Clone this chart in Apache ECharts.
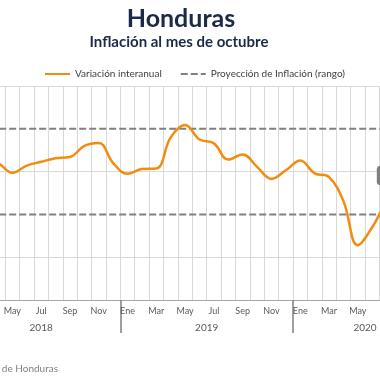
<!DOCTYPE html>
<html>
<head>
<meta charset="utf-8">
<script src="https://cdn.jsdelivr.net/npm/echarts@6/dist/echarts.min.js"></script>
<style>
html,body{margin:0;padding:0;background:#fff;overflow:hidden;width:380px;height:380px;position:relative;}
#c{position:absolute;left:-38px;top:0;width:475px;height:380px;}
</style>
</head>
<body>
<div id="c"></div>
<script>
// ---- data ----
const categories = [
  '2018-02','2018-03','2018-04','2018-05','2018-06','2018-07','2018-08','2018-09','2018-10','2018-11','2018-12',
  '2019-01','2019-02','2019-03','2019-04','2019-05','2019-06','2019-07','2019-08','2019-09','2019-10','2019-11','2019-12',
  '2020-01','2020-02','2020-03','2020-04','2020-05','2020-06','2020-07','2020-08','2020-09','2020-10'
];
const inflation = [
  4.35, 4.27, 4.20, 3.97, 4.14, 4.23, 4.31, 4.34, 4.60, 4.67, 4.20,
  3.95, 4.06, 4.07, 4.80, 5.09, 4.75, 4.66, 4.28, 4.40, 4.11, 3.83, 4.03,
  4.26, 3.96, 3.87, 3.31, 2.28, 2.70, 3.25, 3.40, 3.47, 3.56
];
const rangeHigh = categories.map(() => 5);
const rangeLow = categories.map(() => 3);
const monthNames = ['Ene','Feb','Mar','Abr','May','Jun','Jul','Ago','Sep','Oct','Nov','Dic'];
const yearLabels = ['2018', '2019', '2020'];

// year spans (in month units) derived from categories
const yearStart = {}, yearEnd = {};
categories.forEach((c, i) => {
  const y = c.slice(0, 4);
  if (!(y in yearStart)) yearStart[y] = i;
  yearEnd[y] = i + 1;
});
const yearCenters = yearLabels.map(y => (yearStart[y] + yearEnd[y]) / 2);
const yearBounds = yearLabels.slice(1).map(y => yearStart[y]);

const FONT = 'Lato';
const ORANGE = '#f28c0f';
const chart = echarts.init(document.getElementById('c'), null, {renderer: 'canvas'});

chart.setOption({
  animation: false,
  backgroundColor: '#fff',
  title: [
    {text: 'Honduras', left: 214, textAlign: 'center', top: 1,
     textStyle: {fontFamily: FONT, fontSize: 25, fontWeight: 'bold', color: '#1c2a48'}},
    {text: 'Inflación al mes de octubre', left: 212, textAlign: 'center', top: 30,
     textStyle: {fontFamily: FONT, fontSize: 15, fontWeight: 'bold', color: '#1c2a48'}}
  ],
  legend: {
    top: 64, left: 77,
    itemWidth: 25, itemHeight: 10, itemGap: 18,
    itemStyle: {opacity: 0},
    data: ['Variación interanual', 'Proyección de Inflación (rango)'],
    textStyle: {fontFamily: FONT, fontSize: 10, color: '#404040'}
  },
  grid: {left: 0, right: 0, top: 86, bottom: 80},
  xAxis: [
    {
      type: 'category', data: categories, boundaryGap: true,
      axisLine: {lineStyle: {color: '#a6a6a6', width: 1}},
      axisTick: {show: false},
      axisLabel: {
        interval: (i) => (parseInt(categories[i].slice(5), 10) % 2) === 1,
        formatter: (v) => monthNames[parseInt(v.slice(5), 10) - 1],
        fontFamily: FONT, fontSize: 9, color: '#595959', margin: 7
      },
      splitLine: {show: true, interval: 0, lineStyle: {color: '#d9d9d9', width: 1}}
    },
    {
      type: 'value', position: 'bottom', min: 0, max: categories.length,
      axisLine: {show: false},
      splitLine: {show: false},
      axisTick: {show: true, customValues: yearBounds, length: 33, inside: false,
                 lineStyle: {color: '#808080', width: 1.5}},
      axisLabel: {customValues: yearCenters,
                  formatter: (v) => yearLabels[yearCenters.indexOf(v)] || '',
                  fontFamily: FONT, fontSize: 10, color: '#595959', margin: 23}
    }
  ],
  yAxis: {
    type: 'value', min: 1, max: 6, interval: 1,
    axisLine: {show: false}, axisTick: {show: false}, axisLabel: {show: false},
    splitLine: {show: true, lineStyle: {color: ['rgba(0,0,0,0)', '#d9d9d9'], width: 1}}
  },
  series: [
    {
      name: 'Proyección de Inflación (rango)', type: 'line', data: rangeHigh,
      symbol: 'none', silent: true,
      lineStyle: {color: '#808080', width: 2, type: [7, 3]},
      itemStyle: {color: '#808080'}
    },
    {
      name: 'Proyección de Inflación (rango)', type: 'line', data: rangeLow,
      symbol: 'none', silent: true,
      lineStyle: {color: '#808080', width: 2, type: [7, 3]},
      itemStyle: {color: '#808080'}
    },
    {
      name: 'Variación interanual', type: 'line', data: inflation,
      symbol: 'none', smooth: 0.4, z: 5,
      lineStyle: {color: ORANGE, width: 2.5},
      itemStyle: {color: ORANGE},
      endLabel: {
        show: true, offset: [-61, -15],
        formatter: p => Number(p.value).toFixed(1) + '%',
        backgroundColor: '#7f7f7f', color: '#fff', borderRadius: 3,
        padding: [4, 5], fontSize: 11, fontWeight: 'bold', fontFamily: FONT
      }
    }
  ],
  graphic: [
    {type: 'text', right: 379, top: 364,
     style: {text: 'Fuente: Banco Central de Honduras', fontFamily: FONT, fontSize: 10, fill: '#7f7f7f'}}
  ]
});
</script>
</body>
</html>
